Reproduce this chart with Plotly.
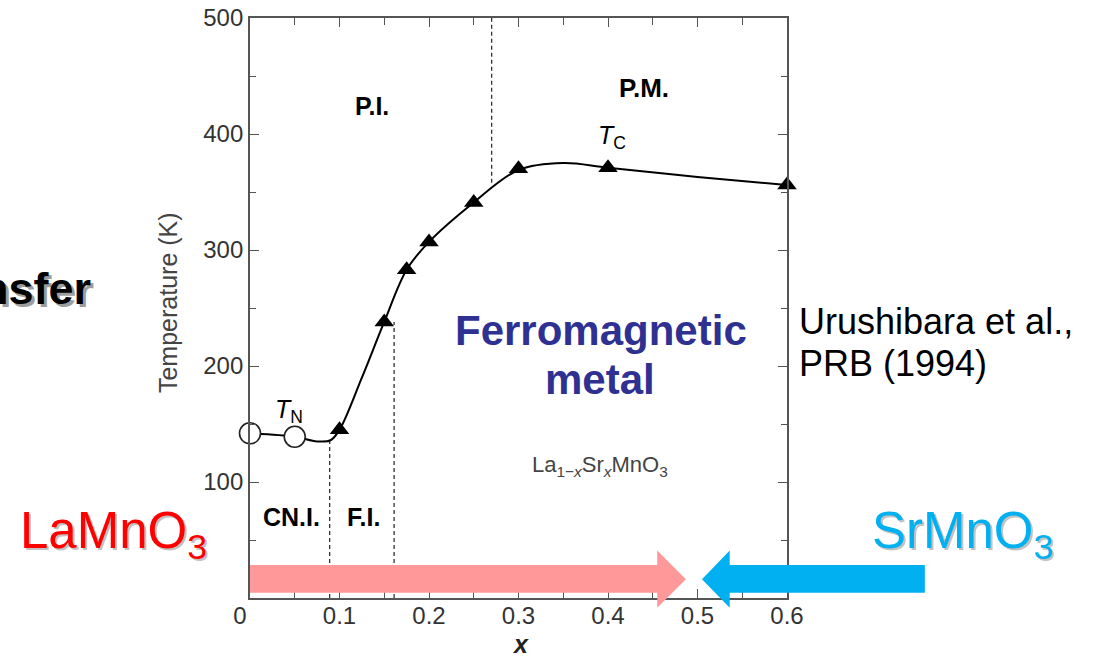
import plotly.graph_objects as go

# Phase diagram of La(1-x)Sr(x)MnO3 (Urushibara et al., PRB 1994)
XMAX, TMAX = 0.6, 500

# Neel temperature (open circles)
tn_x = [0.0, 0.05]
tn_T = [142, 139]

# Curie temperature (filled triangles)
tc_x = [0.1, 0.15, 0.175, 0.2, 0.25, 0.3, 0.4, 0.6]
tc_T = [145, 238, 283, 307, 341, 370, 371, 356]

# Transition curve as drawn through the symbols
curve_x = [0.0, 0.05, 0.075, 0.09, 0.1, 0.125, 0.15, 0.175, 0.2, 0.25, 0.3, 0.35, 0.4, 0.5, 0.6]
curve_T = [142, 139, 135, 136, 145, 190, 238, 283, 307, 341, 369, 375, 371, 363, 356]

# Dashed phase boundaries: (x, T from, T to)
bound_x = [0.089, 0.161, 0.27]
bound_lo = [0, 0, 358]
bound_hi = [135, 238, 500]

x_ticks = [0, 0.1, 0.2, 0.3, 0.4, 0.5, 0.6]
x_ticktext = ["0&nbsp;&nbsp;&nbsp;", "0.1", "0.2", "0.3", "0.4", "0.5", "0.6"]
y_ticks = [100, 200, 300, 400, 500]

FONT = "Liberation Sans, Arial, Helvetica, sans-serif"
INK = "#333333"

fig = go.Figure()

# phase boundaries
for bx, lo, hi in zip(bound_x, bound_lo, bound_hi):
    fig.add_trace(go.Scatter(x=[bx, bx], y=[lo, hi], mode="lines",
                             line=dict(color=INK, width=1.3, dash="4px,3px"),
                             hoverinfo="skip", showlegend=False))

# guide curve
fig.add_trace(go.Scatter(x=curve_x, y=curve_T, mode="lines",
                         line=dict(color="black", width=2, shape="spline", smoothing=1.0),
                         hoverinfo="skip", showlegend=False))

fig.add_trace(go.Scatter(x=tn_x, y=tn_T, mode="markers", cliponaxis=False,
                         marker=dict(symbol="circle", size=21, color="white",
                                     line=dict(color="#222", width=1.6)),
                         showlegend=False))
fig.add_trace(go.Scatter(x=tc_x, y=tc_T, mode="markers", cliponaxis=False,
                         marker=dict(symbol="triangle-up", size=17, color="black",
                                     line=dict(color="black", width=0)),
                         showlegend=False))

ann = []

def label(x, y, text, size, color="black", **kw):
    ann.append(dict(x=x, y=y, xref="x", yref="y", text=text, showarrow=False,
                    font=dict(family=FONT, size=size, color=color), **kw))

def paper_label(x, y, text, size, color="black", xanchor="center", yanchor="middle", **kw):
    ann.append(dict(x=x, y=y, xref="paper", yref="paper", text=text, showarrow=False,
                    xanchor=xanchor, yanchor=yanchor,
                    font=dict(family=FONT, size=size, color=color), **kw))

# region labels inside the diagram
label(0.136, 424, "<b>P.I.</b>", 25)
label(0.440, 440, "<b>P.M.</b>", 26)
label(0.404, 397, "<i>T</i><sub>C</sub>", 25)
label(0.044, 161, "<i>T</i><sub>N</sub>", 25)
label(0.046, 70, "<b>CN.I.</b>", 25)
label(0.127, 70, "<b>F.I.</b>", 25)
label(0.391, 114, "La<sub>1−<i>x</i></sub>Sr<sub><i>x</i></sub>MnO<sub>3</sub>", 22, color="#444")
label(0.392, 231, "<b>Ferromagnetic</b>", 42, color="#2E3192")
label(0.391, 188, "<b>metal</b>", 42, color="#2E3192")

# axis titles
paper_label(-0.153, 0.51, "Temperature (K)", 25, color="#444", textangle=-90)
paper_label(0.503, -0.107, "<b><i>x</i></b>", 25, color="#222", yanchor="bottom")

# reference note
paper_label(1.018, 0.476, "Urushibara et al.,", 36, xanchor="left")
paper_label(1.018, 0.405, "PRB (1994)", 36, xanchor="left")

# end-member compounds, with a soft drop shadow
for text, xpos, color in [("LaMnO<sub>3</sub>", -0.432, "#FF0000"),
                          ("SrMnO<sub>3</sub>", 1.155, "#00B0F0")]:
    paper_label(xpos, 0.05, text, 51, color="rgba(120,120,120,0.45)",
                xanchor="left", yanchor="bottom", xshift=2, yshift=-2)
    paper_label(xpos, 0.05, text, 51, color=color, xanchor="left", yanchor="bottom")

# heading fragment at the left edge
paper_label(-0.2924, 0.533, "<b>Charge transfer</b>", 45, color="rgba(90,90,90,0.6)",
            xanchor="right", xshift=3, yshift=-3)
paper_label(-0.2924, 0.533, "<b>Charge transfer</b>", 45, color="black", xanchor="right")

# composition arrows (in x / T units, converted to paper fractions)
def arrow_path(x_tail, x_base, x_tip, t_lo, t_hi, h_lo, h_hi):
    t_mid = (h_lo + h_hi) / 2
    P = lambda x, t: f"{x / XMAX:.4f},{t / TMAX:.4f}"
    return ("M" + P(x_tail, t_lo) + " L" + P(x_base, t_lo) + " L" + P(x_base, h_lo) +
            " L" + P(x_tip, t_mid) + " L" + P(x_base, h_hi) + " L" + P(x_base, t_hi) +
            " L" + P(x_tail, t_hi) + " Z")

shapes = [
    dict(type="path", xref="paper", yref="paper", layer="above",
         path=arrow_path(0.0, 0.455, 0.487, 4.5, 28.5, -8.5, 41),
         fillcolor="#FF9999", line=dict(width=0)),
    dict(type="path", xref="paper", yref="paper", layer="above",
         path=arrow_path(0.754, 0.536, 0.505, 4.5, 28.5, -8.5, 41),
         fillcolor="#00B0F0", line=dict(width=0)),
]

axis_common = dict(showline=True, linecolor="#555", linewidth=1.8, mirror="allticks",
                   ticks="inside", tickcolor="#555", tickwidth=1.3, ticklen=9,
                   showgrid=False, zeroline=False, automargin=False,
                   tickfont=dict(family=FONT, size=24, color=INK))

fig.update_layout(
    width=1097, height=662, autosize=False,
    margin=dict(l=250, r=310, t=18, b=64, autoexpand=False),
    paper_bgcolor="white", plot_bgcolor="white",
    xaxis=dict(range=[0, XMAX], tickvals=x_ticks, ticktext=x_ticktext,
               ticklabelstandoff=-5,
               minor=dict(dtick=0.05, ticks="inside", ticklen=7, tickcolor="#555"),
               **axis_common),
    yaxis=dict(range=[0, TMAX], tickvals=y_ticks,
               minor=dict(dtick=50, ticks="inside", ticklen=6, tickcolor="#555"),
               **axis_common),
    annotations=ann, shapes=shapes, showlegend=False,
)

fig.write_html("out.html")
